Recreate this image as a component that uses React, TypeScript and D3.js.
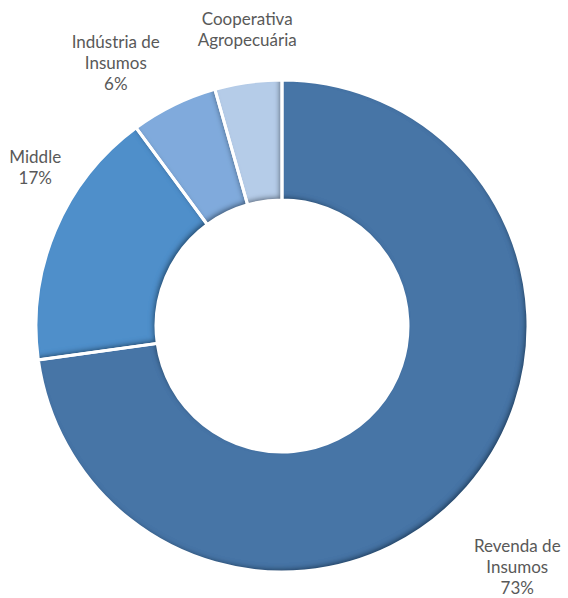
import React from "react";
import * as d3 from "d3";

const categories = ["Revenda de Insumos", "Middle", "Indústria de Insumos", "Cooperativa Agropecuária"];
const values = [72.8, 17.1, 5.7, 4.4];
const labelLines = [
  ["Revenda de", "Insumos", "73%"],
  ["Middle", "17%"],
  ["Indústria de", "Insumos", "6%"],
  ["Cooperativa", "Agropecuária"],
];
const colors = ["#4674a6", "#4f8fca", "#80aadc", "#b5cce8"];
const labelNudges = [
  [12, 47],
  [26, -44],
  [-36, 3],
  [6, -3],
];

const W = 568;
const H = 598;
const CX = 282;
const CY = 326;
const R_OUT = 246;
const R_IN = 126;

export default function App() {
  const data = categories.map((c, i) => ({ name: c, value: values[i], i }));
  const pie = d3.pie<any>().value((d) => d.value).sort(null).startAngle(0).endAngle(2 * Math.PI);
  const arcs = pie(data);
  const arcGen = d3.arc<any>().innerRadius(R_IN).outerRadius(R_OUT);
  const lineH = 21;

  return (
    <svg width={W} height={H} style={{ position: "absolute", left: 0, top: 0 }} fontFamily="Lato, 'Open Sans', sans-serif">
      <defs>
        <filter id="innerShadow" x="-10%" y="-10%" width="120%" height="120%">
          <feComponentTransfer in="SourceAlpha" result="inv">
            <feFuncA type="table" tableValues="1 0" />
          </feComponentTransfer>
          <feOffset in="inv" dx="-3" dy="-3" result="off" />
          <feGaussianBlur in="off" stdDeviation="2.5" result="blur" />
          <feFlood floodColor="#0a1a30" floodOpacity="0.75" result="flood" />
          <feComposite in="flood" in2="blur" operator="in" result="shadow" />
          <feComposite in="shadow" in2="SourceAlpha" operator="in" result="inner" />
          <feMerge>
            <feMergeNode in="SourceGraphic" />
            <feMergeNode in="inner" />
          </feMerge>
        </filter>
      </defs>
      <g transform={`translate(${CX},${CY})`}>
        {arcs.map((a, i) => (
          <path key={"s" + i} d={arcGen(a) as string} fill={colors[i]} filter="url(#innerShadow)" />
        ))}
        {arcs.map((a, i) => (
          <path key={"b" + i} d={arcGen(a) as string} fill="none" stroke="#ffffff" strokeWidth={3} strokeLinejoin="miter" />
        ))}
      </g>
      {arcs.map((a, i) => {
        const mid = (a.startAngle + a.endAngle) / 2;
        const rL = R_OUT + 50;
        const ax = CX + rL * Math.sin(mid) + labelNudges[i][0];
        const ay = CY - rL * Math.cos(mid) + labelNudges[i][1];
        const lines = labelLines[i];
        const n = lines.length;
        return (
          <text key={"t" + i} textAnchor="middle" fill="#595959" fontSize={17}>
            {lines.map((l, j) => (
              <tspan key={j} x={ax} y={ay + (j - (n - 1) / 2) * lineH + 6}>
                {l}
              </tspan>
            ))}
          </text>
        );
      })}
    </svg>
  );
}
